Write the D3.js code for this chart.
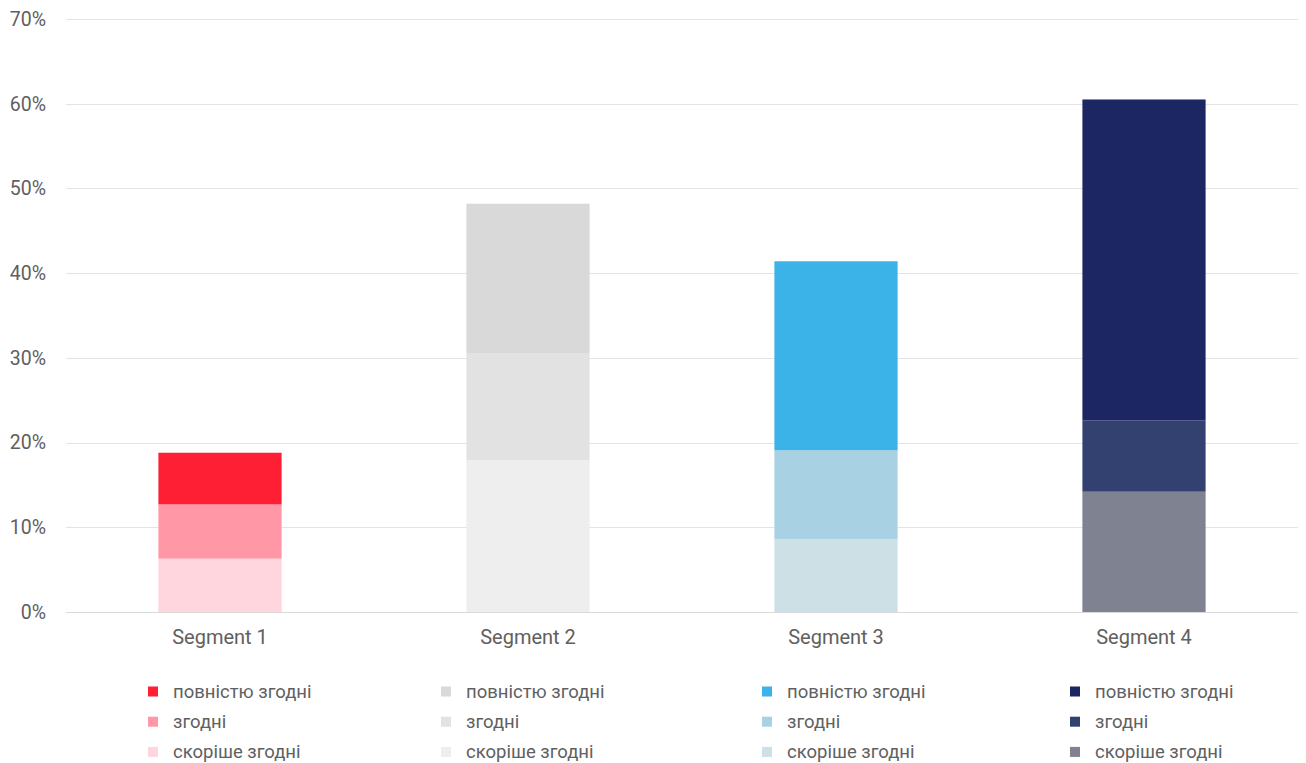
<!DOCTYPE html>
<html><head><meta charset="utf-8">
<script src="https://cdn.jsdelivr.net/npm/d3@7"></script>
<style>body{margin:0;background:#fff;}svg{display:block;font-family:Roboto,sans-serif;}</style>
</head><body>
<svg id="chart" width="1306" height="763"></svg>
<script>
const categories = ["Segment 1", "Segment 2", "Segment 3", "Segment 4"];
const seriesNames = ["скоріше згодні", "згодні", "повністю згодні"];
const rather = [6.3, 17.9, 8.6, 14.2];
const agree = [6.4, 12.6, 10.5, 8.4];
const fully = [6.1, 17.7, 22.3, 37.9];
const tickValues = [0, 10, 20, 30, 40, 50, 60, 70];
const colors = [
  ["#ffd5de", "#ff97a6", "#ff1f35"],
  ["#eeeeee", "#e2e2e2", "#d9d9d9"],
  ["#cde0e6", "#a8d2e3", "#3bb2e8"],
  ["#7e8291", "#334171", "#1b2663"]
];
const legendX = [148, 441, 762, 1070];

const svg = d3.select("#chart");
const x = d3.scaleBand().domain(categories).range([66, 1298]).paddingInner(0.6).paddingOuter(0.3);
const y = d3.scaleLinear().domain([0, 70]).range([612, 19]);
const textColor = "#606060";

// grid
svg.append("g").selectAll("line").data(tickValues).join("line")
  .attr("x1", 66).attr("x2", 1298)
  .attr("y1", d => Math.round(y(d)) + 0.5).attr("y2", d => Math.round(y(d)) + 0.5)
  .attr("stroke", d => d === 0 ? "#d9d9d9" : "#e3e3e3").attr("stroke-width", 1);

// y labels
svg.append("g").selectAll("text").data(tickValues).join("text")
  .attr("x", 46).attr("y", d => y(d)).attr("dy", "0.35em")
  .attr("text-anchor", "end").attr("font-size", 19.5).attr("fill", textColor)
  .text(d => d + "%");

// stacked bars
const seriesData = [rather, agree, fully];
categories.forEach((c, i) => {
  let cum = 0;
  const segs = seriesData.map((s, k) => { const d = {y0: cum, y1: cum + s[i], k}; cum += s[i]; return d; });
  svg.append("g").selectAll("rect").data(segs).join("rect")
    .attr("x", x(c)).attr("width", x.bandwidth())
    .attr("y", d => y(d.y1)).attr("height", d => y(d.y0) - y(d.y1))
    .attr("fill", d => colors[i][d.k]);
});

// x labels
svg.append("g").selectAll("text").data(categories).join("text")
  .attr("x", d => x(d) + x.bandwidth() / 2).attr("y", 644)
  .attr("text-anchor", "middle").attr("font-size", 20).attr("fill", textColor)
  .text(d => d);

// legend
const legendOrder = [2, 1, 0];
categories.forEach((c, i) => {
  const g = svg.append("g");
  legendOrder.forEach((k, r) => {
    const cy = 691.5 + r * 30.2;
    g.append("rect").attr("x", legendX[i]).attr("y", cy - 5).attr("width", 10).attr("height", 10)
      .attr("fill", colors[i][k]);
    g.append("text").attr("x", legendX[i] + 25).attr("y", cy).attr("dy", "0.35em")
      .attr("font-size", 18.5).attr("fill", textColor).text(seriesNames[k]);
  });
});
</script>
</body></html>
